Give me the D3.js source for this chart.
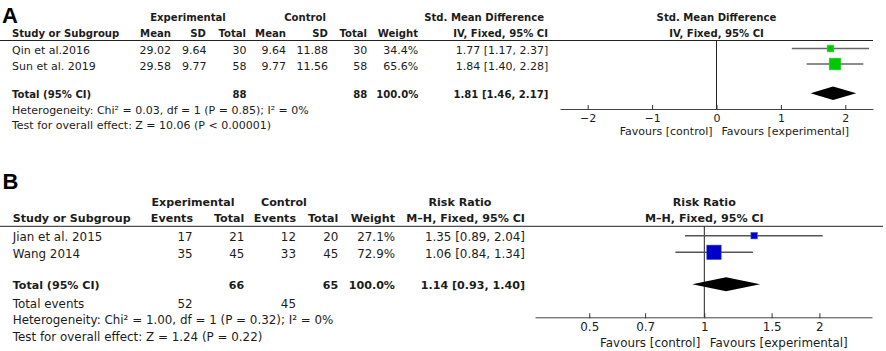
<!DOCTYPE html>
<html><head><meta charset="utf-8">
<script src="https://cdn.jsdelivr.net/npm/d3@7"></script>
<style>body{margin:0;background:#fff} svg{display:block}</style>
</head><body>
<script>
// ---------- Panel A data ----------
const studiesA = ["Qin et al.2016", "Sun et al. 2019"];
const expMeanA = [29.02, 29.58];
const expSdA = [9.64, 9.77];
const expTotalA = [30, 58];
const ctlMeanA = [9.64, 9.77];
const ctlSdA = [11.88, 11.56];
const ctlTotalA = [30, 58];
const weightA = [34.4, 65.6];
const estA = [1.77, 1.84];
const lowA = [1.17, 1.40];
const highA = [2.37, 2.28];
const totalA = [1.81, 1.46, 2.17];   // estimate, low, high
const totalNA = [88, 88];
const ticksA = [-2, -1, 0, 1, 2];
const hetA = "Heterogeneity: Chi² = 0.03, df = 1 (P = 0.85); I² = 0%";
const testA = "Test for overall effect: Z = 10.06 (P < 0.00001)";

// ---------- Panel B data ----------
const studiesB = ["Jian et al. 2015", "Wang 2014"];
const expEventsB = [17, 35];
const expTotalB = [21, 45];
const ctlEventsB = [12, 33];
const ctlTotalB = [20, 45];
const weightB = [27.1, 72.9];
const estB = [1.35, 1.06];
const lowB = [0.89, 0.84];
const highB = [2.04, 1.34];
const totalB = [1.14, 0.93, 1.40];
const totalNB = [66, 65];
const totalEventsB = [52, 45];
const ticksB = [0.5, 0.7, 1, 1.5, 2];
const hetB = "Heterogeneity: Chi² = 1.00, df = 1 (P = 0.32); I² = 0%";
const testB = "Test for overall effect: Z = 1.24 (P = 0.22)";

const ink = "#1c1c1c";
const f2 = d3.format(".2f"), f1 = d3.format(".1f");
const ci = (e, l, h) => `${f2(e)} [${f2(l)}, ${f2(h)}]`;

const svg = d3.select("body").append("svg").attr("width", 886).attr("height", 351)
  .style("font-family", "'DejaVu Sans', sans-serif");

function T(x, y, s, o = {}) {
  return svg.append("text").attr("x", x).attr("y", y).text(s)
    .attr("fill", ink)
    .attr("font-size", o.size)
    .attr("font-weight", o.bold ? "bold" : "normal")
    .attr("text-anchor", o.anchor || "start");
}

// ================= PANEL A =================
{
  const rs = 11, bs = 10.1;
  svg.append("text").attr("x", 2).attr("y", 22.5).text("A")
    .attr("font-family", "'Liberation Sans', Arial, sans-serif")
    .attr("font-weight", "bold").attr("font-size", 22).attr("fill", "#000");

  const h1 = 21, h2 = 36.5;
  T(188, h1, "Experimental", {size: bs, bold: 1, anchor: "middle"});
  T(305, h1, "Control", {size: bs, bold: 1, anchor: "middle"});
  T(544, h1, "Std. Mean Difference", {size: bs, bold: 1, anchor: "end"});
  const x = d3.scaleLinear().domain([-2.43, 2.43]).range([560, 873]);
  const x0 = x(0);
  T(x0, h1, "Std. Mean Difference", {size: bs, bold: 1, anchor: "middle"});

  T(12, h2, "Study or Subgroup", {size: bs, bold: 1});
  [["Mean", 171], ["SD", 206], ["Total", 246], ["Mean", 286], ["SD", 328], ["Total", 367], ["Weight", 418], ["IV, Fixed, 95% CI", 548]]
    .forEach(([s, xx]) => T(xx, h2, s, {size: bs, bold: 1, anchor: "end"}));
  T(x0, h2, "IV, Fixed, 95% CI", {size: bs, bold: 1, anchor: "middle"});

  svg.append("line").attr("x1", 0).attr("x2", 873).attr("y1", 40.5).attr("y2", 40.5)
    .attr("stroke", "#222").attr("stroke-width", 1);

  const yc = [48.5, 64];
  const yTot = 93.3, yAxis = 109;
  const sz = d3.scaleLinear().domain([0, 100]).range([1.2, 17.2]);

  studiesA.forEach((s, i) => {
    const b = yc[i] + 5.5;
    T(12, b, s, {size: rs});
    T(171, b, f2(expMeanA[i]), {size: rs, anchor: "end"});
    T(206.5, b, f2(expSdA[i]), {size: rs, anchor: "end"});
    T(246.5, b, expTotalA[i], {size: rs, anchor: "end"});
    T(286, b, f2(ctlMeanA[i]), {size: rs, anchor: "end"});
    T(328, b, f2(ctlSdA[i]), {size: rs, anchor: "end"});
    T(367.3, b, ctlTotalA[i], {size: rs, anchor: "end"});
    T(418.3, b, f1(weightA[i]) + "%", {size: rs, anchor: "end"});
    T(548.3, b, ci(estA[i], lowA[i], highA[i]), {size: rs, anchor: "end"});
  });
  const bt = yTot + 5;
  T(12, bt, "Total (95% CI)", {size: bs, bold: 1});
  T(246.5, bt, totalNA[0], {size: bs, bold: 1, anchor: "end"});
  T(367.3, bt, totalNA[1], {size: bs, bold: 1, anchor: "end"});
  T(418.3, bt, "100.0%", {size: bs, bold: 1, anchor: "end"});
  T(548.3, bt, ci(totalA[0], totalA[1], totalA[2]), {size: bs, bold: 1, anchor: "end"});
  T(12, 114, hetA, {size: rs});
  T(12, 128.5, testA, {size: rs});

  // plot
  svg.append("line").attr("x1", x0).attr("x2", x0).attr("y1", 40.5).attr("y2", yAxis)
    .attr("stroke", "#222").attr("stroke-width", 1);
  const ax = svg.append("g").attr("transform", `translate(0,${yAxis})`)
    .call(d3.axisBottom(x).tickValues(ticksA).tickFormat(d3.format("")).tickSizeInner(-4).tickSizeOuter(0).tickPadding(5));
  ax.select(".domain").attr("stroke", "#444");
  ax.selectAll(".tick line").attr("stroke", "#333").attr("y2", -4).attr("y1", 1);
  ax.selectAll(".tick text").attr("font-family", "'DejaVu Sans', sans-serif").attr("font-size", rs).attr("fill", ink);
  T(x0 - 4, 135, "Favours [control]", {size: rs, anchor: "end"});
  T(x0 + 5, 135, "Favours [experimental]", {size: rs});

  studiesA.forEach((s, i) => {
    svg.append("line").attr("x1", x(lowA[i])).attr("x2", x(highA[i])).attr("y1", yc[i]).attr("y2", yc[i])
      .attr("stroke", "#666").attr("stroke-width", 1.4);
    const w = sz(weightA[i]);
    svg.append("rect").attr("x", x(estA[i]) - w / 2).attr("y", yc[i] - w / 2).attr("width", w).attr("height", w)
      .attr("fill", "#00c800").attr("stroke", "#33d633").attr("stroke-width", 0.6);
  });
  const dh = 6.8;
  svg.append("path").attr("d", `M${x(totalA[1])},${yTot}L${x(totalA[0])},${yTot - dh}L${x(totalA[2])},${yTot}L${x(totalA[0])},${yTot + dh}Z`)
    .attr("fill", "#000");
}

// ================= PANEL B =================
{
  const rs = 11.9, bs = 11.1;
  svg.append("text").attr("x", 2.5).attr("y", 189.3).text("B")
    .attr("font-family", "'Liberation Sans', Arial, sans-serif")
    .attr("font-weight", "bold").attr("font-size", 22).attr("fill", "#000");

  const x = d3.scaleLog().domain([0.3606, 2.746]).range([535, 872]);
  const x0 = x(1);
  const h1 = 205.7, h2 = 222.3;
  T(193, h1, "Experimental", {size: bs, bold: 1, anchor: "middle"});
  T(284, h1, "Control", {size: bs, bold: 1, anchor: "middle"});
  T(460, h1, "Risk Ratio", {size: bs, bold: 1, anchor: "middle"});
  T(x0, h1, "Risk Ratio", {size: bs, bold: 1, anchor: "middle"});

  T(12.7, h2, "Study or Subgroup", {size: bs, bold: 1});
  [["Events", 193], ["Total", 244.3], ["Events", 296], ["Total", 338.3], ["Weight", 395], ["M–H, Fixed, 95% CI", 525]]
    .forEach(([s, xx]) => T(xx, h2, s, {size: bs, bold: 1, anchor: "end"}));
  T(x0, h2, "M–H, Fixed, 95% CI", {size: bs, bold: 1, anchor: "middle"});

  svg.append("line").attr("x1", 0).attr("x2", 883).attr("y1", 226.3).attr("y2", 226.3)
    .attr("stroke", "#222").attr("stroke-width", 1);

  const yc = [235.7, 252.3];
  const yTot = 284.3, yAxis = 317.3;
  const sz = d3.scaleLinear().domain([0, 100]).range([1.6, 19.1]);

  studiesB.forEach((s, i) => {
    const b = yc[i] + 5.5;
    T(12.7, b, s, {size: rs});
    T(192.7, b, expEventsB[i], {size: rs, anchor: "end"});
    T(244.3, b, expTotalB[i], {size: rs, anchor: "end"});
    T(296, b, ctlEventsB[i], {size: rs, anchor: "end"});
    T(338.3, b, ctlTotalB[i], {size: rs, anchor: "end"});
    T(395, b, f1(weightB[i]) + "%", {size: rs, anchor: "end"});
    T(525, b, ci(estB[i], lowB[i], highB[i]), {size: rs, anchor: "end"});
  });
  const bt = yTot + 5;
  T(12.7, bt, "Total (95% CI)", {size: bs, bold: 1});
  T(244.3, bt, totalNB[0], {size: bs, bold: 1, anchor: "end"});
  T(338.3, bt, totalNB[1], {size: bs, bold: 1, anchor: "end"});
  T(395, bt, "100.0%", {size: bs, bold: 1, anchor: "end"});
  T(525, bt, ci(totalB[0], totalB[1], totalB[2]), {size: bs, bold: 1, anchor: "end"});
  T(12.7, 307.7, "Total events", {size: rs});
  T(192.7, 307.7, totalEventsB[0], {size: rs, anchor: "end"});
  T(296, 307.7, totalEventsB[1], {size: rs, anchor: "end"});
  T(12.7, 324.3, hetB, {size: rs});
  T(12.7, 341, testB, {size: rs});

  svg.append("line").attr("x1", x0).attr("x2", x0).attr("y1", 226.3).attr("y2", yAxis)
    .attr("stroke", "#222").attr("stroke-width", 1);
  const ax = svg.append("g").attr("transform", `translate(0,${yAxis})`)
    .call(d3.axisBottom(x).tickValues(ticksB).tickFormat(d3.format("")).tickSizeInner(-4).tickSizeOuter(0).tickPadding(5));
  ax.select(".domain").attr("stroke", "#444");
  ax.selectAll(".tick line").attr("stroke", "#333").attr("y2", -4).attr("y1", 1);
  ax.selectAll(".tick text").attr("font-family", "'DejaVu Sans', sans-serif").attr("font-size", rs).attr("fill", ink);
  T(x0 - 4, 347, "Favours [control]", {size: rs, anchor: "end"});
  T(x0 + 5.5, 347, "Favours [experimental]", {size: rs});

  studiesB.forEach((s, i) => {
    svg.append("line").attr("x1", x(lowB[i])).attr("x2", x(highB[i])).attr("y1", yc[i]).attr("y2", yc[i])
      .attr("stroke", "#555").attr("stroke-width", 1.4);
    const w = sz(weightB[i]);
    svg.append("rect").attr("x", x(estB[i]) - w / 2).attr("y", yc[i] - w / 2).attr("width", w).attr("height", w)
      .attr("fill", "#0000c8").attr("stroke", "#3344dd").attr("stroke-width", 0.6);
  });
  const dh = 7;
  svg.append("path").attr("d", `M${x(totalB[1])},${yTot}L${x(totalB[0])},${yTot - dh}L${x(totalB[2])},${yTot}L${x(totalB[0])},${yTot + dh}Z`)
    .attr("fill", "#000");
}
</script>
</body></html>
